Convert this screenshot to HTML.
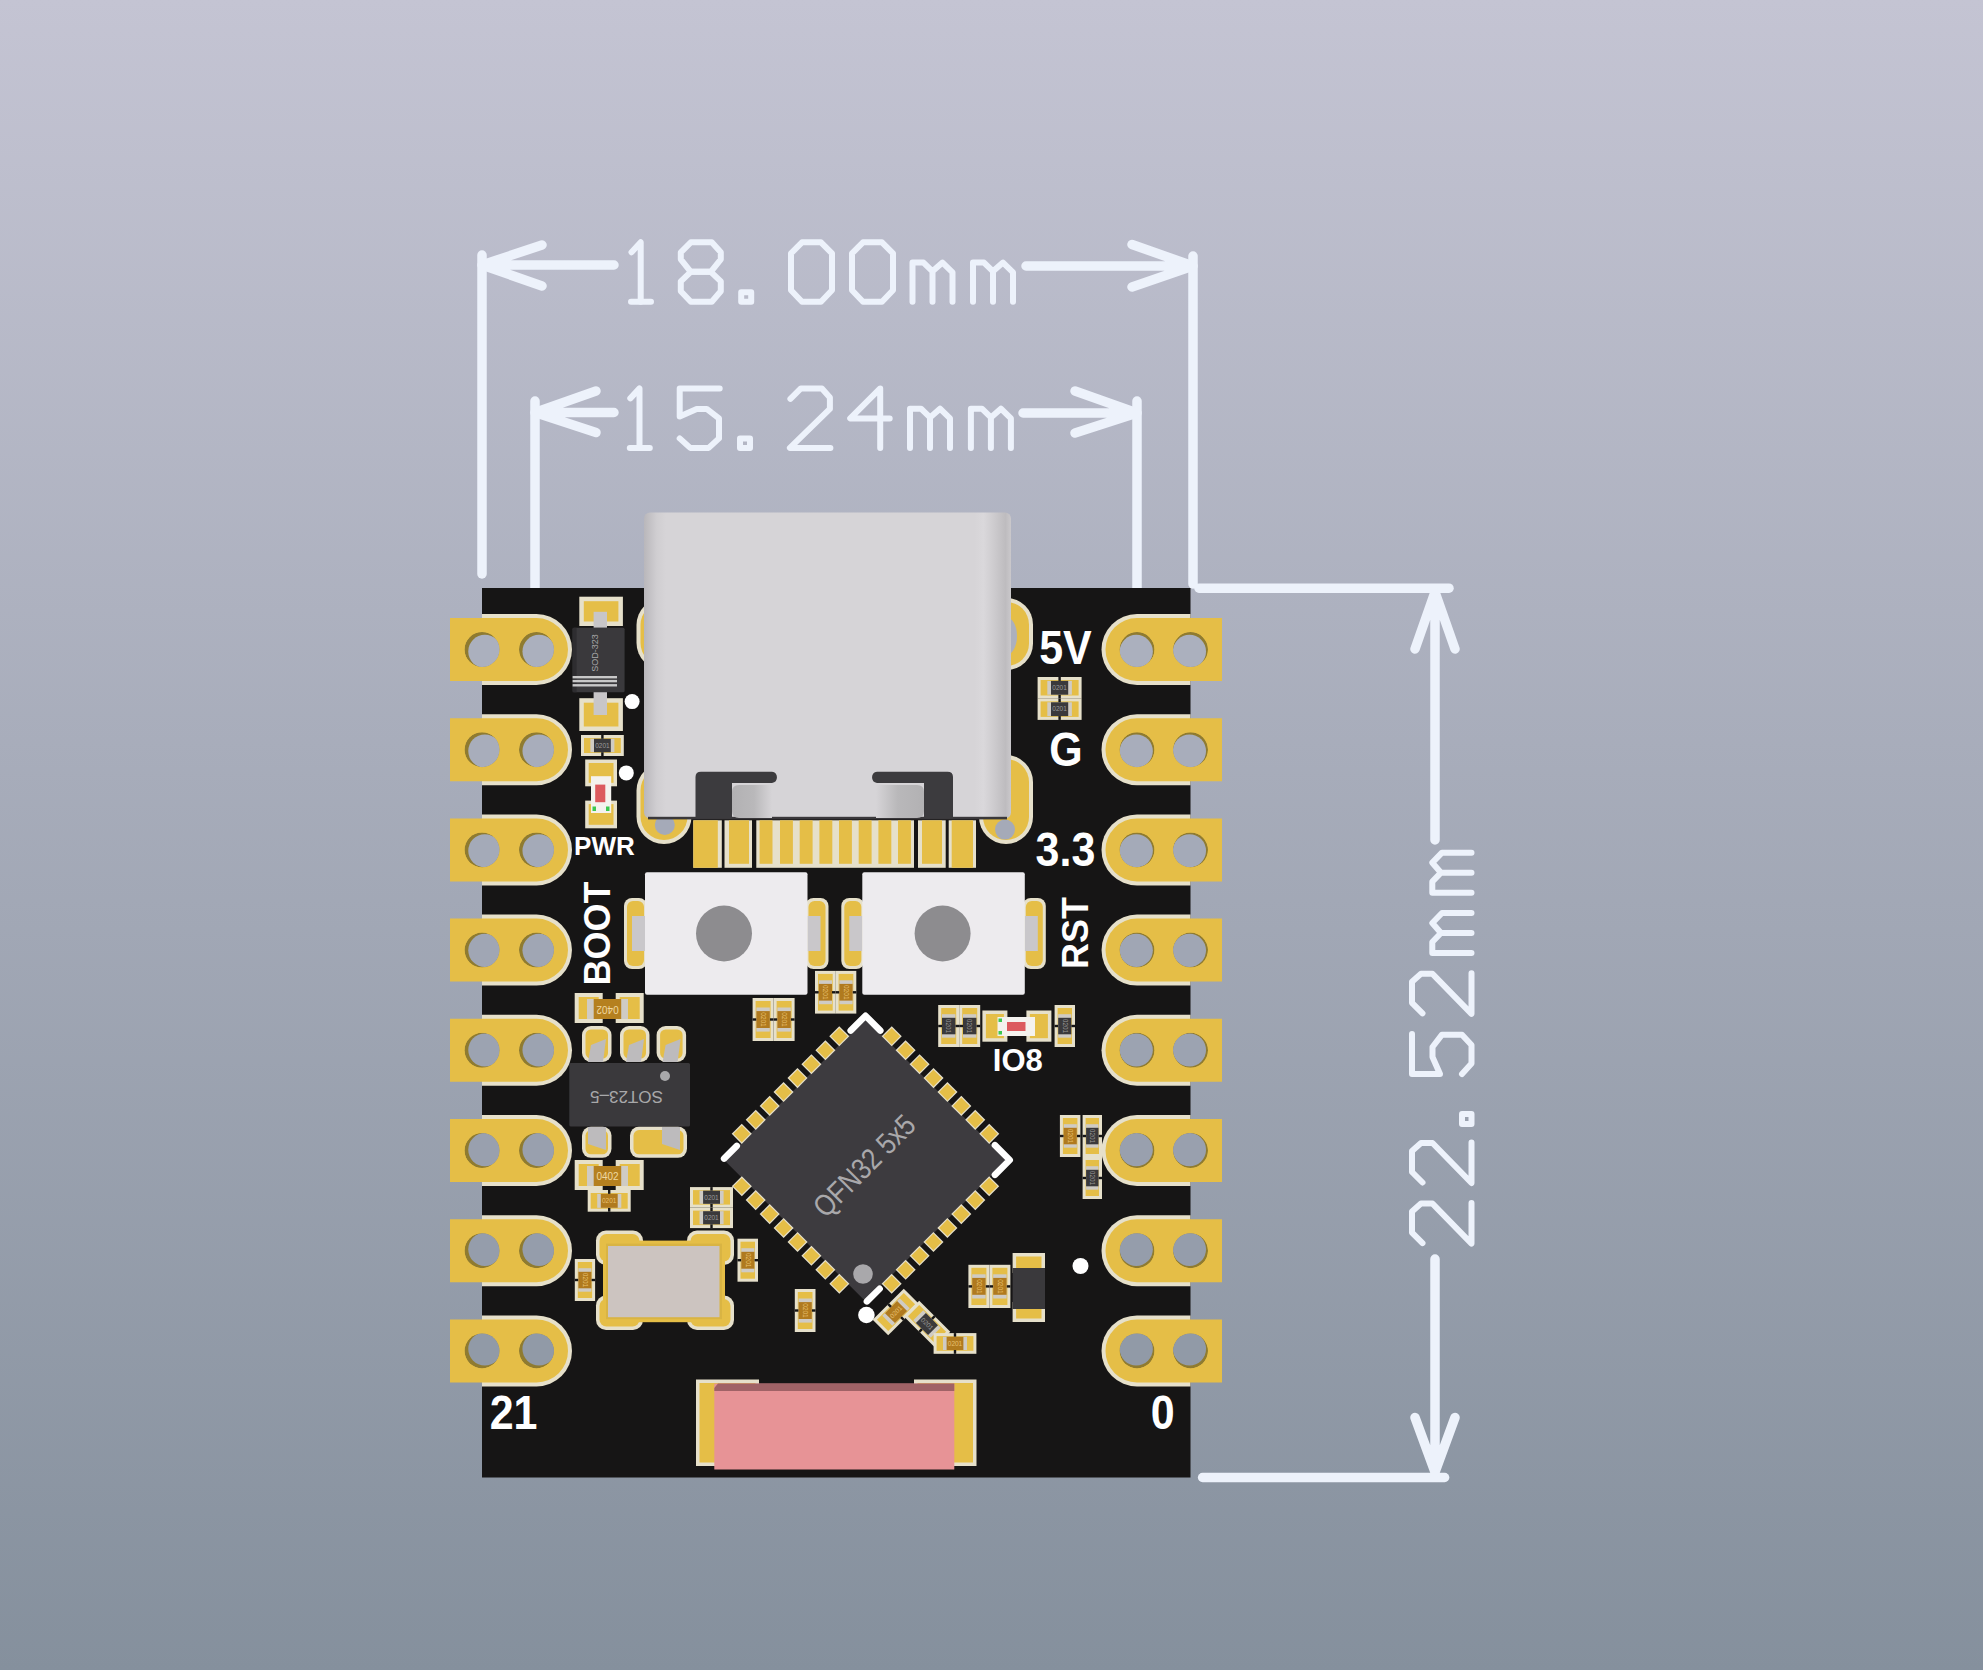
<!DOCTYPE html><html><head><meta charset="utf-8"><style>html,body{margin:0;padding:0;overflow:hidden;background:#C4C4D3}svg{display:block}</style></head><body>
<svg width="1983" height="1670" viewBox="0 0 1983 1670">
<defs><linearGradient id="bg" x1="0" y1="0" x2="0" y2="1"><stop offset="0" stop-color="#C4C4D3"/><stop offset="1" stop-color="#85909D"/></linearGradient></defs>
<rect x="0" y="0" width="1983" height="1670" fill="url(#bg)"/>
<g stroke="#EDF2FB" stroke-width="9.5" stroke-linecap="round" stroke-linejoin="round" fill="none">
<path d="M482,255 L482,574"/>
<path d="M1193,256 L1193,584"/>
<path d="M482,265 L614,265 M482,265 L542,245 M482,265 L542,286"/>
<path d="M1026,266 L1193,266 M1193,266 L1132,244.5 M1193,266 L1132,287"/>
<path d="M535,401 L535,588"/>
<path d="M1137,401 L1137,588"/>
<path d="M535,412.5 L614,412.5 M535,412.5 L596,391 M535,412.5 L596,432.5"/>
<path d="M1023,413 L1137,413 M1137,413 L1075,391 M1137,413 L1075,433"/>
<path d="M1199,588.2 L1449,588.2"/>
<path d="M1202.6,1477.5 L1444.6,1477.5"/>
<path d="M1435,592 L1435,840 M1435,592 L1415,649 M1435,592 L1455,649"/>
<path d="M1435,1259 L1435,1472 M1435,1472 L1415,1417.5 M1435,1472 L1455,1417.5"/>
</g>
<g stroke="#EDF2FB" stroke-width="6" stroke-linecap="round" stroke-linejoin="round" fill="none">
<path transform="translate(628.0,239.3)" d="M3.5,13 L12.7,3 L12.7,62.5"/><path transform="translate(628.0,239.3)" d="M3,62.5 L23,62.5"/><path transform="translate(677.8,239.3)" d="M13,3 L34,3 L43,13 L43,20 L33,32.5 L13,32.5 L3,20 L3,13 Z"/><path transform="translate(677.8,239.3)" d="M13,32.5 L33,32.5 L43,42 L43,52 L34,62.5 L13,62.5 L3,52 L3,42 Z"/><path transform="translate(738.2,239.3)" d="M3,53 L13,53 L13,62.5 L3,62.5 Z"/><path transform="translate(788.0,239.3)" d="M14,3 L33,3 L44,14 L44,51 L33,62.5 L14,62.5 L3,51 L3,14 Z"/><path transform="translate(849.0,239.3)" d="M14,3 L33,3 L44,14 L44,51 L33,62.5 L14,62.5 L3,51 L3,14 Z"/><path transform="translate(909.5,239.3)" d="M3,62.5 L3,23.3 L14,23.3 L23,32 L23,62.5 M23,32 L33,23.3 L43,33 L43,62.5"/><path transform="translate(970.0,239.3)" d="M3,62.5 L3,23.3 L14,23.3 L23,32 L23,62.5 M23,32 L33,23.3 L43,33 L43,62.5"/>
<path transform="translate(626.8,385.4)" d="M3.5,13 L12.7,3 L12.7,62.5"/><path transform="translate(626.8,385.4)" d="M3,62.5 L23,62.5"/><path transform="translate(676.7,385.4)" d="M43,3 L3,3 L3,31 L20,23.5 L30,23.5 L42.3,33 L42.3,53 L32,62.5 L13.5,62.5 L3,53"/><path transform="translate(737.0,385.4)" d="M3,53 L13,53 L13,62.5 L3,62.5 Z"/><path transform="translate(786.9,385.4)" d="M3.5,13.5 L14,3 L35,3 L43,12 L43,23.5 L3,62.5 L43.5,62.5"/><path transform="translate(847.2,385.4)" d="M33,62.5 L33,3 L3,33 L42.5,33"/><path transform="translate(907.0,385.4)" d="M3,62.5 L3,23.3 L14,23.3 L23,32 L23,62.5 M23,32 L33,23.3 L43,33 L43,62.5"/><path transform="translate(967.9,385.4)" d="M3,62.5 L3,23.3 L14,23.3 L23,32 L23,62.5 M23,32 L33,23.3 L43,33 L43,62.5"/>
<path transform="translate(1409.0,1246.6) rotate(-90)" d="M3.5,13.5 L14,3 L35,3 L43,12 L43,23.5 L3,62.5 L43.5,62.5"/><path transform="translate(1409.0,1186.0) rotate(-90)" d="M3.5,13.5 L14,3 L35,3 L43,12 L43,23.5 L3,62.5 L43.5,62.5"/><path transform="translate(1409.0,1127.0) rotate(-90)" d="M3,53 L13,53 L13,62.5 L3,62.5 Z"/><path transform="translate(1409.0,1077.0) rotate(-90)" d="M43,3 L3,3 L3,31 L20,23.5 L30,23.5 L42.3,33 L42.3,53 L32,62.5 L13.5,62.5 L3,53"/><path transform="translate(1409.0,1016.8) rotate(-90)" d="M3.5,13.5 L14,3 L35,3 L43,12 L43,23.5 L3,62.5 L43.5,62.5"/><path transform="translate(1409.0,956.0) rotate(-90)" d="M3,62.5 L3,23.3 L14,23.3 L23,32 L23,62.5 M23,32 L33,23.3 L43,33 L43,62.5"/><path transform="translate(1409.0,895.7) rotate(-90)" d="M3,62.5 L3,23.3 L14,23.3 L23,32 L23,62.5 M23,32 L33,23.3 L43,33 L43,62.5"/>
</g>
<defs><clipPath id="hc"><circle cx="0" cy="0" r="17.5"/></clipPath></defs>
<rect x="482" y="588" width="708.5" height="889.5" fill="#161515"/>
<path d="M482,614.0 L536.5,614.0 A35.5,35.5 0 0 1 536.5,685.0 L482,685.0 Z" fill="#E6E0CA"/><path d="M450,618.0 L536.5,618.0 A31.5,31.5 0 0 1 536.5,681.0 L450,681.0 Z" fill="#E5BE47"/><g transform="translate(482.0,649.5)" clip-path="url(#hc)"><circle cx="0" cy="0" r="17.5" fill="#8F7B30"/><circle cx="2.85" cy="1.93" r="16.6" fill="#ABB0BE"/></g><g transform="translate(536.5,649.5)" clip-path="url(#hc)"><circle cx="0" cy="0" r="17.5" fill="#8F7B30"/><circle cx="2.55" cy="1.93" r="16.6" fill="#ABB0BE"/></g>
<path d="M1190.5,614.0 L1137.0,614.0 A35.5,35.5 0 0 0 1137.0,685.0 L1190.5,685.0 Z" fill="#E6E0CA"/><path d="M1222,618.0 L1137.0,618.0 A31.5,31.5 0 0 0 1137.0,681.0 L1222,681.0 Z" fill="#E5BE47"/><g transform="translate(1137.0,649.5)" clip-path="url(#hc)"><circle cx="0" cy="0" r="17.5" fill="#8F7B30"/><circle cx="-0.75" cy="1.93" r="16.6" fill="#ABB0BE"/></g><g transform="translate(1190.5,649.5)" clip-path="url(#hc)"><circle cx="0" cy="0" r="17.5" fill="#8F7B30"/><circle cx="-1.05" cy="1.93" r="16.6" fill="#ABB0BE"/></g>
<path d="M482,714.2 L536.5,714.2 A35.5,35.5 0 0 1 536.5,785.2 L482,785.2 Z" fill="#E6E0CA"/><path d="M450,718.2 L536.5,718.2 A31.5,31.5 0 0 1 536.5,781.2 L450,781.2 Z" fill="#E5BE47"/><g transform="translate(482.0,749.7)" clip-path="url(#hc)"><circle cx="0" cy="0" r="17.5" fill="#8F7B30"/><circle cx="2.85" cy="1.38" r="16.6" fill="#A8ADBB"/></g><g transform="translate(536.5,749.7)" clip-path="url(#hc)"><circle cx="0" cy="0" r="17.5" fill="#8F7B30"/><circle cx="2.55" cy="1.38" r="16.6" fill="#A8ADBB"/></g>
<path d="M1190.5,714.2 L1137.0,714.2 A35.5,35.5 0 0 0 1137.0,785.2 L1190.5,785.2 Z" fill="#E6E0CA"/><path d="M1222,718.2 L1137.0,718.2 A31.5,31.5 0 0 0 1137.0,781.2 L1222,781.2 Z" fill="#E5BE47"/><g transform="translate(1137.0,749.7)" clip-path="url(#hc)"><circle cx="0" cy="0" r="17.5" fill="#8F7B30"/><circle cx="-0.75" cy="1.38" r="16.6" fill="#A8ADBB"/></g><g transform="translate(1190.5,749.7)" clip-path="url(#hc)"><circle cx="0" cy="0" r="17.5" fill="#8F7B30"/><circle cx="-1.05" cy="1.38" r="16.6" fill="#A8ADBB"/></g>
<path d="M482,814.4 L536.5,814.4 A35.5,35.5 0 0 1 536.5,885.4 L482,885.4 Z" fill="#E6E0CA"/><path d="M450,818.4 L536.5,818.4 A31.5,31.5 0 0 1 536.5,881.4 L450,881.4 Z" fill="#E5BE47"/><g transform="translate(482.0,849.9)" clip-path="url(#hc)"><circle cx="0" cy="0" r="17.5" fill="#8F7B30"/><circle cx="2.85" cy="0.83" r="16.6" fill="#A4AAB8"/></g><g transform="translate(536.5,849.9)" clip-path="url(#hc)"><circle cx="0" cy="0" r="17.5" fill="#8F7B30"/><circle cx="2.55" cy="0.83" r="16.6" fill="#A4AAB8"/></g>
<path d="M1190.5,814.4 L1137.0,814.4 A35.5,35.5 0 0 0 1137.0,885.4 L1190.5,885.4 Z" fill="#E6E0CA"/><path d="M1222,818.4 L1137.0,818.4 A31.5,31.5 0 0 0 1137.0,881.4 L1222,881.4 Z" fill="#E5BE47"/><g transform="translate(1137.0,849.9)" clip-path="url(#hc)"><circle cx="0" cy="0" r="17.5" fill="#8F7B30"/><circle cx="-0.75" cy="0.83" r="16.6" fill="#A4AAB8"/></g><g transform="translate(1190.5,849.9)" clip-path="url(#hc)"><circle cx="0" cy="0" r="17.5" fill="#8F7B30"/><circle cx="-1.05" cy="0.83" r="16.6" fill="#A4AAB8"/></g>
<path d="M482,914.6 L536.5,914.6 A35.5,35.5 0 0 1 536.5,985.6 L482,985.6 Z" fill="#E6E0CA"/><path d="M450,918.6 L536.5,918.6 A31.5,31.5 0 0 1 536.5,981.6 L450,981.6 Z" fill="#E5BE47"/><g transform="translate(482.0,950.1)" clip-path="url(#hc)"><circle cx="0" cy="0" r="17.5" fill="#8F7B30"/><circle cx="2.85" cy="0.27" r="16.6" fill="#A0A6B4"/></g><g transform="translate(536.5,950.1)" clip-path="url(#hc)"><circle cx="0" cy="0" r="17.5" fill="#8F7B30"/><circle cx="2.55" cy="0.27" r="16.6" fill="#A0A6B4"/></g>
<path d="M1190.5,914.6 L1137.0,914.6 A35.5,35.5 0 0 0 1137.0,985.6 L1190.5,985.6 Z" fill="#E6E0CA"/><path d="M1222,918.6 L1137.0,918.6 A31.5,31.5 0 0 0 1137.0,981.6 L1222,981.6 Z" fill="#E5BE47"/><g transform="translate(1137.0,950.1)" clip-path="url(#hc)"><circle cx="0" cy="0" r="17.5" fill="#8F7B30"/><circle cx="-0.75" cy="0.27" r="16.6" fill="#A0A6B4"/></g><g transform="translate(1190.5,950.1)" clip-path="url(#hc)"><circle cx="0" cy="0" r="17.5" fill="#8F7B30"/><circle cx="-1.05" cy="0.27" r="16.6" fill="#A0A6B4"/></g>
<path d="M482,1014.8 L536.5,1014.8 A35.5,35.5 0 0 1 536.5,1085.8 L482,1085.8 Z" fill="#E6E0CA"/><path d="M450,1018.8 L536.5,1018.8 A31.5,31.5 0 0 1 536.5,1081.8 L450,1081.8 Z" fill="#E5BE47"/><g transform="translate(482.0,1050.3)" clip-path="url(#hc)"><circle cx="0" cy="0" r="17.5" fill="#8F7B30"/><circle cx="2.85" cy="-0.28" r="16.6" fill="#9CA3B1"/></g><g transform="translate(536.5,1050.3)" clip-path="url(#hc)"><circle cx="0" cy="0" r="17.5" fill="#8F7B30"/><circle cx="2.55" cy="-0.28" r="16.6" fill="#9CA3B1"/></g>
<path d="M1190.5,1014.8 L1137.0,1014.8 A35.5,35.5 0 0 0 1137.0,1085.8 L1190.5,1085.8 Z" fill="#E6E0CA"/><path d="M1222,1018.8 L1137.0,1018.8 A31.5,31.5 0 0 0 1137.0,1081.8 L1222,1081.8 Z" fill="#E5BE47"/><g transform="translate(1137.0,1050.3)" clip-path="url(#hc)"><circle cx="0" cy="0" r="17.5" fill="#8F7B30"/><circle cx="-0.75" cy="-0.28" r="16.6" fill="#9CA3B1"/></g><g transform="translate(1190.5,1050.3)" clip-path="url(#hc)"><circle cx="0" cy="0" r="17.5" fill="#8F7B30"/><circle cx="-1.05" cy="-0.28" r="16.6" fill="#9CA3B1"/></g>
<path d="M482,1115.0 L536.5,1115.0 A35.5,35.5 0 0 1 536.5,1186.0 L482,1186.0 Z" fill="#E6E0CA"/><path d="M450,1119.0 L536.5,1119.0 A31.5,31.5 0 0 1 536.5,1182.0 L450,1182.0 Z" fill="#E5BE47"/><g transform="translate(482.0,1150.5)" clip-path="url(#hc)"><circle cx="0" cy="0" r="17.5" fill="#8F7B30"/><circle cx="2.85" cy="-0.83" r="16.6" fill="#99A0AE"/></g><g transform="translate(536.5,1150.5)" clip-path="url(#hc)"><circle cx="0" cy="0" r="17.5" fill="#8F7B30"/><circle cx="2.55" cy="-0.83" r="16.6" fill="#99A0AE"/></g>
<path d="M1190.5,1115.0 L1137.0,1115.0 A35.5,35.5 0 0 0 1137.0,1186.0 L1190.5,1186.0 Z" fill="#E6E0CA"/><path d="M1222,1119.0 L1137.0,1119.0 A31.5,31.5 0 0 0 1137.0,1182.0 L1222,1182.0 Z" fill="#E5BE47"/><g transform="translate(1137.0,1150.5)" clip-path="url(#hc)"><circle cx="0" cy="0" r="17.5" fill="#8F7B30"/><circle cx="-0.75" cy="-0.83" r="16.6" fill="#99A0AE"/></g><g transform="translate(1190.5,1150.5)" clip-path="url(#hc)"><circle cx="0" cy="0" r="17.5" fill="#8F7B30"/><circle cx="-1.05" cy="-0.83" r="16.6" fill="#99A0AE"/></g>
<path d="M482,1215.2 L536.5,1215.2 A35.5,35.5 0 0 1 536.5,1286.2 L482,1286.2 Z" fill="#E6E0CA"/><path d="M450,1219.2 L536.5,1219.2 A31.5,31.5 0 0 1 536.5,1282.2 L450,1282.2 Z" fill="#E5BE47"/><g transform="translate(482.0,1250.7)" clip-path="url(#hc)"><circle cx="0" cy="0" r="17.5" fill="#8F7B30"/><circle cx="2.85" cy="-1.38" r="16.6" fill="#959DAB"/></g><g transform="translate(536.5,1250.7)" clip-path="url(#hc)"><circle cx="0" cy="0" r="17.5" fill="#8F7B30"/><circle cx="2.55" cy="-1.38" r="16.6" fill="#959DAB"/></g>
<path d="M1190.5,1215.2 L1137.0,1215.2 A35.5,35.5 0 0 0 1137.0,1286.2 L1190.5,1286.2 Z" fill="#E6E0CA"/><path d="M1222,1219.2 L1137.0,1219.2 A31.5,31.5 0 0 0 1137.0,1282.2 L1222,1282.2 Z" fill="#E5BE47"/><g transform="translate(1137.0,1250.7)" clip-path="url(#hc)"><circle cx="0" cy="0" r="17.5" fill="#8F7B30"/><circle cx="-0.75" cy="-1.38" r="16.6" fill="#959DAB"/></g><g transform="translate(1190.5,1250.7)" clip-path="url(#hc)"><circle cx="0" cy="0" r="17.5" fill="#8F7B30"/><circle cx="-1.05" cy="-1.38" r="16.6" fill="#959DAB"/></g>
<path d="M482,1315.4 L536.5,1315.4 A35.5,35.5 0 0 1 536.5,1386.4 L482,1386.4 Z" fill="#E6E0CA"/><path d="M450,1319.4 L536.5,1319.4 A31.5,31.5 0 0 1 536.5,1382.4 L450,1382.4 Z" fill="#E5BE47"/><g transform="translate(482.0,1350.9)" clip-path="url(#hc)"><circle cx="0" cy="0" r="17.5" fill="#8F7B30"/><circle cx="2.85" cy="-1.93" r="16.6" fill="#919AA7"/></g><g transform="translate(536.5,1350.9)" clip-path="url(#hc)"><circle cx="0" cy="0" r="17.5" fill="#8F7B30"/><circle cx="2.55" cy="-1.93" r="16.6" fill="#919AA7"/></g>
<path d="M1190.5,1315.4 L1137.0,1315.4 A35.5,35.5 0 0 0 1137.0,1386.4 L1190.5,1386.4 Z" fill="#E6E0CA"/><path d="M1222,1319.4 L1137.0,1319.4 A31.5,31.5 0 0 0 1137.0,1382.4 L1222,1382.4 Z" fill="#E5BE47"/><g transform="translate(1137.0,1350.9)" clip-path="url(#hc)"><circle cx="0" cy="0" r="17.5" fill="#8F7B30"/><circle cx="-0.75" cy="-1.93" r="16.6" fill="#919AA7"/></g><g transform="translate(1190.5,1350.9)" clip-path="url(#hc)"><circle cx="0" cy="0" r="17.5" fill="#8F7B30"/><circle cx="-1.05" cy="-1.93" r="16.6" fill="#919AA7"/></g>
<rect x="636.5" y="598.0" width="54.0" height="72.0" rx="27.0" fill="#E6E0CA"/><rect x="640.5" y="602.0" width="46.0" height="64.0" rx="23.0" fill="#E5BE47"/>
<rect x="980.0" y="598.0" width="53.0" height="72.0" rx="26.5" fill="#E6E0CA"/><rect x="984.0" y="602.0" width="45.0" height="64.0" rx="22.5" fill="#E5BE47"/>
<ellipse cx="1006" cy="636" rx="11" ry="19" fill="#ACB0BE"/>
<rect x="636.5" y="763.0" width="55.0" height="81.0" rx="27.5" fill="#E6E0CA"/><rect x="640.5" y="767.0" width="47.0" height="73.0" rx="23.5" fill="#E5BE47"/>
<circle cx="664.8" cy="825.0" r="10.0" fill="#A5AAB8"/>
<rect x="979.0" y="755.0" width="54.0" height="89.0" rx="27.0" fill="#E6E0CA"/><rect x="983.0" y="759.0" width="46.0" height="81.0" rx="23.0" fill="#E5BE47"/>
<circle cx="1005.0" cy="829.6" r="10.0" fill="#A5AAB8"/>
<rect x="693.3" y="820.3" width="28.5" height="47.5" fill="#E6E0CA"/><rect x="693.3" y="820.3" width="24.5" height="47.5" fill="#E5BE47"/>
<rect x="724.5" y="820.3" width="27.5" height="47.5" fill="#E6E0CA"/><rect x="729.0" y="820.3" width="20.0" height="43.5" fill="#E5BE47"/>
<rect x="756.3" y="820.3" width="157.7" height="47.5" fill="#E6E0CA"/>
<rect x="759.6" y="820.3" width="12.9" height="43.5" fill="#E5BE47"/>
<rect x="780.0" y="820.3" width="12.9" height="43.5" fill="#E5BE47"/>
<rect x="799.7" y="820.3" width="12.9" height="43.5" fill="#E5BE47"/>
<rect x="819.4" y="820.3" width="12.9" height="43.5" fill="#E5BE47"/>
<rect x="839.0" y="820.3" width="12.9" height="43.5" fill="#E5BE47"/>
<rect x="858.7" y="820.3" width="12.9" height="43.5" fill="#E5BE47"/>
<rect x="878.4" y="820.3" width="12.9" height="43.5" fill="#E5BE47"/>
<rect x="898.0" y="820.3" width="12.9" height="43.5" fill="#E5BE47"/>
<rect x="918.0" y="820.3" width="27.7" height="47.5" fill="#E6E0CA"/><rect x="922.0" y="820.3" width="20.0" height="43.5" fill="#E5BE47"/>
<rect x="948.7" y="820.3" width="27.3" height="47.5" fill="#E6E0CA"/><rect x="951.7" y="820.3" width="21.3" height="47.5" fill="#E5BE47"/>
<defs><linearGradient id="usbg" x1="0" y1="0" x2="1" y2="0"><stop offset="0" stop-color="#B9B7BB"/><stop offset="0.035" stop-color="#D0CED1"/><stop offset="0.06" stop-color="#D6D4D7"/><stop offset="0.90" stop-color="#D6D4D7"/><stop offset="0.925" stop-color="#DAD8DB"/><stop offset="0.95" stop-color="#CFCDD0"/><stop offset="0.985" stop-color="#BEBCBF"/><stop offset="1" stop-color="#CAC8CB"/></linearGradient></defs>
<rect x="644.0" y="512.5" width="367.0" height="306.0" rx="6.0" fill="url(#usbg)"/>
<rect x="648.0" y="816.8" width="359.0" height="2.6" fill="#3A383B"/>
<defs><linearGradient id="recL" x1="0" y1="0" x2="1" y2="0"><stop offset="0" stop-color="#B2B1B3"/><stop offset="0.55" stop-color="#B9B8BA"/><stop offset="1" stop-color="#D6D4D7"/></linearGradient><linearGradient id="recR" x1="1" y1="0" x2="0" y2="0"><stop offset="0" stop-color="#B2B1B3"/><stop offset="0.55" stop-color="#B9B8BA"/><stop offset="1" stop-color="#D6D4D7"/></linearGradient></defs>
<path d="M695.5,818.6 L695.5,777 Q695.5,771.7 701,771.7 L772,771.7 A5.7,5.7 0 0 1 772,783 L732,783 L732,818.6 Z" fill="#3C3B3E"/>
<path d="M772,785 L739,785 Q732,785 732,792 L732,811 Q732,818 739,818 L772,818 Z" fill="url(#recL)"/>
<path d="M953,818.6 L953,777 Q953,771.7 947.5,771.7 L877,771.7 A5.7,5.7 0 0 0 877,783 L924,783 L924,818.6 Z" fill="#3C3B3E"/>
<path d="M876,785 L917,785 Q924,785 924,792 L924,811 Q924,818 917,818 L876,818 Z" fill="url(#recR)"/>
<rect x="624.0" y="898.0" width="23.0" height="71.0" rx="8.0" fill="#E6E0CA"/><rect x="627.0" y="901.0" width="17.0" height="65.0" rx="6.0" fill="#E5BE47"/>
<rect x="805.5" y="898.0" width="23.0" height="71.0" rx="8.0" fill="#E6E0CA"/><rect x="808.5" y="901.0" width="17.0" height="65.0" rx="6.0" fill="#E5BE47"/>
<rect x="632.0" y="916.0" width="13.0" height="35.0" fill="#C9C7CA"/>
<rect x="807.5" y="916.0" width="13.0" height="35.0" fill="#C9C7CA"/>
<rect x="645.0" y="872.3" width="162.5" height="122.5" rx="2.0" fill="#EDEBEE"/>
<circle cx="724.0" cy="933.5" r="28.0" fill="#8D8C8F"/>
<rect x="841.3" y="898.0" width="23.0" height="71.0" rx="8.0" fill="#E6E0CA"/><rect x="844.3" y="901.0" width="17.0" height="65.0" rx="6.0" fill="#E5BE47"/>
<rect x="1022.8" y="898.0" width="23.0" height="71.0" rx="8.0" fill="#E6E0CA"/><rect x="1025.8" y="901.0" width="17.0" height="65.0" rx="6.0" fill="#E5BE47"/>
<rect x="849.3" y="916.0" width="13.0" height="35.0" fill="#C9C7CA"/>
<rect x="1024.8" y="916.0" width="13.0" height="35.0" fill="#C9C7CA"/>
<rect x="862.3" y="872.3" width="162.5" height="122.5" rx="2.0" fill="#EDEBEE"/>
<circle cx="942.6" cy="933.5" r="28.0" fill="#8D8C8F"/>
<g transform="translate(865.5,1160.0) rotate(45)">
<rect x="-100.0" y="-100.0" width="200.0" height="200.0" rx="4.0" fill="#3D3B3F"/>
<rect x="-76.0" y="-113.1" width="14.2" height="14.2" fill="#E6E0CA"/><rect x="-74.8" y="-111.9" width="11.8" height="11.8" fill="#E5BE47"/><rect x="-76.0" y="98.9" width="14.2" height="14.2" fill="#E6E0CA"/><rect x="-74.8" y="100.1" width="11.8" height="11.8" fill="#E5BE47"/><rect x="-113.1" y="-76.0" width="14.2" height="14.2" fill="#E6E0CA"/><rect x="-111.9" y="-74.8" width="11.8" height="11.8" fill="#E5BE47"/><rect x="98.9" y="-76.0" width="14.2" height="14.2" fill="#E6E0CA"/><rect x="100.1" y="-74.8" width="11.8" height="11.8" fill="#E5BE47"/><rect x="-56.4" y="-113.1" width="14.2" height="14.2" fill="#E6E0CA"/><rect x="-55.1" y="-111.9" width="11.8" height="11.8" fill="#E5BE47"/><rect x="-56.4" y="98.9" width="14.2" height="14.2" fill="#E6E0CA"/><rect x="-55.1" y="100.1" width="11.8" height="11.8" fill="#E5BE47"/><rect x="-113.1" y="-56.4" width="14.2" height="14.2" fill="#E6E0CA"/><rect x="-111.9" y="-55.1" width="11.8" height="11.8" fill="#E5BE47"/><rect x="98.9" y="-56.4" width="14.2" height="14.2" fill="#E6E0CA"/><rect x="100.1" y="-55.1" width="11.8" height="11.8" fill="#E5BE47"/><rect x="-36.6" y="-113.1" width="14.2" height="14.2" fill="#E6E0CA"/><rect x="-35.4" y="-111.9" width="11.8" height="11.8" fill="#E5BE47"/><rect x="-36.6" y="98.9" width="14.2" height="14.2" fill="#E6E0CA"/><rect x="-35.4" y="100.1" width="11.8" height="11.8" fill="#E5BE47"/><rect x="-113.1" y="-36.6" width="14.2" height="14.2" fill="#E6E0CA"/><rect x="-111.9" y="-35.4" width="11.8" height="11.8" fill="#E5BE47"/><rect x="98.9" y="-36.6" width="14.2" height="14.2" fill="#E6E0CA"/><rect x="100.1" y="-35.4" width="11.8" height="11.8" fill="#E5BE47"/><rect x="-16.9" y="-113.1" width="14.2" height="14.2" fill="#E6E0CA"/><rect x="-15.8" y="-111.9" width="11.8" height="11.8" fill="#E5BE47"/><rect x="-16.9" y="98.9" width="14.2" height="14.2" fill="#E6E0CA"/><rect x="-15.8" y="100.1" width="11.8" height="11.8" fill="#E5BE47"/><rect x="-113.1" y="-16.9" width="14.2" height="14.2" fill="#E6E0CA"/><rect x="-111.9" y="-15.8" width="11.8" height="11.8" fill="#E5BE47"/><rect x="98.9" y="-16.9" width="14.2" height="14.2" fill="#E6E0CA"/><rect x="100.1" y="-15.8" width="11.8" height="11.8" fill="#E5BE47"/><rect x="2.8" y="-113.1" width="14.2" height="14.2" fill="#E6E0CA"/><rect x="4.0" y="-111.9" width="11.8" height="11.8" fill="#E5BE47"/><rect x="2.8" y="98.9" width="14.2" height="14.2" fill="#E6E0CA"/><rect x="4.0" y="100.1" width="11.8" height="11.8" fill="#E5BE47"/><rect x="-113.1" y="2.8" width="14.2" height="14.2" fill="#E6E0CA"/><rect x="-111.9" y="4.0" width="11.8" height="11.8" fill="#E5BE47"/><rect x="98.9" y="2.8" width="14.2" height="14.2" fill="#E6E0CA"/><rect x="100.1" y="4.0" width="11.8" height="11.8" fill="#E5BE47"/><rect x="22.4" y="-113.1" width="14.2" height="14.2" fill="#E6E0CA"/><rect x="23.6" y="-111.9" width="11.8" height="11.8" fill="#E5BE47"/><rect x="22.4" y="98.9" width="14.2" height="14.2" fill="#E6E0CA"/><rect x="23.6" y="100.1" width="11.8" height="11.8" fill="#E5BE47"/><rect x="-113.1" y="22.4" width="14.2" height="14.2" fill="#E6E0CA"/><rect x="-111.9" y="23.6" width="11.8" height="11.8" fill="#E5BE47"/><rect x="98.9" y="22.4" width="14.2" height="14.2" fill="#E6E0CA"/><rect x="100.1" y="23.6" width="11.8" height="11.8" fill="#E5BE47"/><rect x="42.1" y="-113.1" width="14.2" height="14.2" fill="#E6E0CA"/><rect x="43.4" y="-111.9" width="11.8" height="11.8" fill="#E5BE47"/><rect x="42.1" y="98.9" width="14.2" height="14.2" fill="#E6E0CA"/><rect x="43.4" y="100.1" width="11.8" height="11.8" fill="#E5BE47"/><rect x="-113.1" y="42.1" width="14.2" height="14.2" fill="#E6E0CA"/><rect x="-111.9" y="43.4" width="11.8" height="11.8" fill="#E5BE47"/><rect x="98.9" y="42.1" width="14.2" height="14.2" fill="#E6E0CA"/><rect x="100.1" y="43.4" width="11.8" height="11.8" fill="#E5BE47"/><rect x="61.9" y="-113.1" width="14.2" height="14.2" fill="#E6E0CA"/><rect x="63.1" y="-111.9" width="11.8" height="11.8" fill="#E5BE47"/><rect x="61.9" y="98.9" width="14.2" height="14.2" fill="#E6E0CA"/><rect x="63.1" y="100.1" width="11.8" height="11.8" fill="#E5BE47"/><rect x="-113.1" y="61.9" width="14.2" height="14.2" fill="#E6E0CA"/><rect x="-111.9" y="63.1" width="11.8" height="11.8" fill="#E5BE47"/><rect x="98.9" y="61.9" width="14.2" height="14.2" fill="#E6E0CA"/><rect x="100.1" y="63.1" width="11.8" height="11.8" fill="#E5BE47"/>
<path d="M-102.0,-81.0 L-102.0,-102.0 L-81.0,-102.0 M81.0,-102.0 L102.0,-102.0 L102.0,-81.0 M-101.0,99.0 L-101.0,81.0 M101.0,99.0 L101.0,81.0 " stroke="#FFFFFF" stroke-width="6.5" fill="none" stroke-linecap="round" stroke-linejoin="round"/>
</g>
<circle cx="863.0" cy="1274.0" r="9.8" fill="#A9A8AB"/>
<circle cx="866.4" cy="1315.0" r="8.3" fill="#FFFFFF"/>
<text transform="translate(871.5,1173) rotate(-45)" x="-65" textLength="130" lengthAdjust="spacingAndGlyphs" font-family="Liberation Sans, sans-serif" font-size="30" fill="#A9A8AB">QFN32 5x5</text>
<rect x="579.3" y="596.7" width="43.6" height="29.3" fill="#E6E0CA"/><rect x="583.8" y="601.2" width="34.6" height="20.3" fill="#E5BE47"/>
<rect x="579.3" y="698.2" width="43.6" height="32.8" fill="#E6E0CA"/><rect x="583.8" y="702.7" width="34.6" height="23.8" fill="#E5BE47"/>
<rect x="593.6" y="611.8" width="13.4" height="16.0" fill="#C8C6C8"/>
<rect x="593.6" y="692.0" width="13.4" height="23.0" fill="#C8C6C8"/>
<rect x="572.6" y="627.8" width="52.0" height="64.5" rx="1.5" fill="#3A393C"/>
<rect x="572.6" y="627.8" width="4.0" height="64.5" fill="#2E2D30"/>
<rect x="572.6" y="676.0" width="44.4" height="2.4" fill="#C8C8C8"/>
<rect x="572.6" y="679.9" width="44.4" height="2.4" fill="#C8C8C8"/>
<rect x="572.6" y="684.1" width="44.4" height="2.4" fill="#C8C8C8"/>
<text transform="translate(598,653) rotate(-90)" text-anchor="middle" font-family="Liberation Sans, sans-serif" font-size="9" fill="#A8A8A8">SOD-323</text>
<circle cx="632.1" cy="701.6" r="7.5" fill="#FFFFFF"/>
<g transform="translate(602.4,745.5)"><rect x="-21.4" y="-10.5" width="42.8" height="21.0" fill="#E6E0CA"/><rect x="-18.4" y="-7.5" width="36.8" height="15.0" fill="#E5BE47"/><rect x="-1.2" y="-10.5" width="2.4" height="21.0" fill="#161515"/><rect x="-12.0" y="-6.7" width="24.0" height="13.4" fill="#CFCBC4"/><rect x="-8.4" y="-6.7" width="16.8" height="13.4" fill="#3A393B"/><text x="0" y="2.2" text-anchor="middle" font-family="Liberation Sans, sans-serif" font-size="6.5" fill="#9A9A9A">0201</text></g>
<rect x="585.2" y="759.5" width="31.8" height="26.8" fill="#E6E0CA"/><rect x="588.7" y="763.0" width="24.8" height="19.8" fill="#E5BE47"/>
<rect x="585.2" y="800.6" width="31.8" height="27.7" fill="#E6E0CA"/><rect x="588.7" y="804.1" width="24.8" height="20.7" fill="#E5BE47"/>
<rect x="591.0" y="776.2" width="20.2" height="36.8" fill="#F4F2EE"/>
<rect x="595.2" y="784.6" width="10.1" height="17.6" fill="#DC5A5E"/>
<rect x="592.5" y="806.5" width="3.5" height="4.5" fill="#3CC850"/><rect x="606.0" y="806.5" width="3.5" height="4.5" fill="#3CC850"/>
<circle cx="626.3" cy="772.9" r="7.5" fill="#FFFFFF"/>
<rect x="574.7" y="993.0" width="28.0" height="30.0" fill="#E6E0CA"/><rect x="578.7" y="997.0" width="20.0" height="22.0" fill="#E5BE47"/><rect x="615.7" y="993.0" width="28.0" height="30.0" fill="#E6E0CA"/><rect x="619.7" y="997.0" width="20.0" height="22.0" fill="#E5BE47"/><rect x="587.0" y="999.0" width="41.0" height="20.0" fill="#CFCBC4"/><rect x="593.7" y="999.0" width="27.5" height="20.0" fill="#B5801F"/><text transform="translate(607.5,1009.0) rotate(180)" x="0" y="3.5" text-anchor="middle" font-family="Liberation Sans, sans-serif" font-size="10" fill="#F0D8A0">0402</text>
<rect x="574.7" y="1160.0" width="28.0" height="30.0" fill="#E6E0CA"/><rect x="578.7" y="1164.0" width="20.0" height="22.0" fill="#E5BE47"/><rect x="615.7" y="1160.0" width="28.0" height="30.0" fill="#E6E0CA"/><rect x="619.7" y="1164.0" width="20.0" height="22.0" fill="#E5BE47"/><rect x="587.0" y="1166.0" width="41.0" height="20.0" fill="#CFCBC4"/><rect x="593.7" y="1166.0" width="27.5" height="20.0" fill="#B5801F"/><text transform="translate(607.5,1176.0)" x="0" y="3.5" text-anchor="middle" font-family="Liberation Sans, sans-serif" font-size="10" fill="#F0D8A0">0402</text>
<rect x="582.0" y="1026.0" width="29.5" height="36.0" rx="9.0" fill="#E6E0CA"/><rect x="585.5" y="1029.5" width="22.5" height="29.0" rx="5.5" fill="#E5BE47"/>
<path d="M588.0,1062 L591.0,1045 L606.0,1039 L603.0,1062 Z" fill="#BDBBBD"/>
<rect x="620.0" y="1026.0" width="29.5" height="36.0" rx="9.0" fill="#E6E0CA"/><rect x="623.5" y="1029.5" width="22.5" height="29.0" rx="5.5" fill="#E5BE47"/>
<path d="M626.0,1062 L629.0,1045 L644.0,1039 L641.0,1062 Z" fill="#BDBBBD"/>
<rect x="656.6" y="1026.0" width="29.5" height="36.0" rx="9.0" fill="#E6E0CA"/><rect x="660.1" y="1029.5" width="22.5" height="29.0" rx="5.5" fill="#E5BE47"/>
<path d="M662.6,1062 L665.6,1045 L680.6,1039 L677.6,1062 Z" fill="#BDBBBD"/>
<rect x="582.0" y="1126.6" width="29.5" height="31.2" rx="9.0" fill="#E6E0CA"/><rect x="585.5" y="1130.1" width="22.5" height="24.2" rx="5.5" fill="#E5BE47"/>
<rect x="630.0" y="1126.6" width="57.0" height="31.2" rx="9.0" fill="#E6E0CA"/><rect x="633.5" y="1130.1" width="50.0" height="24.2" rx="5.5" fill="#E5BE47"/>
<path d="M588,1127 L588,1144 L606,1150 L606,1127 Z" fill="#BDBBBD"/>
<path d="M662,1127 L662,1144 L680,1150 L680,1127 Z" fill="#BDBBBD"/>
<rect x="569.3" y="1063.0" width="120.7" height="63.6" rx="1.5" fill="#3A393C"/>
<circle cx="665.0" cy="1076.0" r="5.0" fill="#A8A8AA"/>
<text transform="translate(626.5,1096.4) rotate(180)" x="0" y="0" text-anchor="middle" dominant-baseline="central" font-family="Liberation Sans, sans-serif" font-size="17" fill="#A8A8AA">SOT23&#8211;5</text>
<g transform="translate(609.2,1200.8)"><rect x="-21.5" y="-10.8" width="43.0" height="21.7" fill="#E6E0CA"/><rect x="-18.5" y="-7.8" width="37.0" height="15.7" fill="#E5BE47"/><rect x="-1.2" y="-10.8" width="2.4" height="21.7" fill="#161515"/><rect x="-12.0" y="-6.9" width="24.1" height="13.9" fill="#CFCBC4"/><rect x="-8.4" y="-6.9" width="16.9" height="13.9" fill="#B07A1E"/><text x="0" y="2.2" text-anchor="middle" font-family="Liberation Sans, sans-serif" font-size="6.5" fill="#E8C070">0201</text></g>
<rect x="596.0" y="1230.5" width="47.0" height="34.5" rx="10.0" fill="#E6E0CA"/><rect x="599.5" y="1234.0" width="40.0" height="27.5" rx="7.0" fill="#E5BE47"/>
<rect x="687.0" y="1230.5" width="47.0" height="34.5" rx="10.0" fill="#E6E0CA"/><rect x="690.5" y="1234.0" width="40.0" height="27.5" rx="7.0" fill="#E5BE47"/>
<rect x="596.0" y="1295.5" width="47.0" height="34.5" rx="10.0" fill="#E6E0CA"/><rect x="599.5" y="1299.0" width="40.0" height="27.5" rx="7.0" fill="#E5BE47"/>
<rect x="687.0" y="1295.5" width="47.0" height="34.5" rx="10.0" fill="#E6E0CA"/><rect x="690.5" y="1299.0" width="40.0" height="27.5" rx="7.0" fill="#E5BE47"/>
<rect x="603.0" y="1240.6" width="122.0" height="81.6" fill="#E5BE47"/>
<rect x="606.0" y="1243.6" width="116.0" height="75.6" fill="#D9B443"/>
<rect x="608.0" y="1246.0" width="111.5" height="71.2" fill="#CCC4C0"/>
<g transform="translate(584.9,1280.0) rotate(90)"><rect x="-21.0" y="-10.2" width="42.0" height="20.3" fill="#E6E0CA"/><rect x="-18.0" y="-7.2" width="36.0" height="14.3" fill="#E5BE47"/><rect x="-1.2" y="-10.2" width="2.4" height="20.3" fill="#161515"/><rect x="-11.8" y="-6.5" width="23.5" height="13.0" fill="#CFCBC4"/><rect x="-8.2" y="-6.5" width="16.5" height="13.0" fill="#B07A1E"/><text x="0" y="2.2" text-anchor="middle" font-family="Liberation Sans, sans-serif" font-size="6.5" fill="#E8C070">0201</text></g>
<g transform="translate(747.8,1260.2) rotate(90)"><rect x="-21.5" y="-10.2" width="43.0" height="20.5" fill="#E6E0CA"/><rect x="-18.5" y="-7.2" width="37.0" height="14.5" fill="#E5BE47"/><rect x="-1.2" y="-10.2" width="2.4" height="20.5" fill="#161515"/><rect x="-12.0" y="-6.6" width="24.1" height="13.1" fill="#CFCBC4"/><rect x="-8.4" y="-6.6" width="16.9" height="13.1" fill="#B07A1E"/><text x="0" y="2.2" text-anchor="middle" font-family="Liberation Sans, sans-serif" font-size="6.5" fill="#E8C070">0201</text></g>
<g transform="translate(711.5,1197.3)"><rect x="-21.5" y="-10.2" width="43.0" height="20.5" fill="#E6E0CA"/><rect x="-18.5" y="-7.2" width="37.0" height="14.5" fill="#E5BE47"/><rect x="-1.2" y="-10.2" width="2.4" height="20.5" fill="#161515"/><rect x="-12.0" y="-6.6" width="24.1" height="13.1" fill="#CFCBC4"/><rect x="-8.4" y="-6.6" width="16.9" height="13.1" fill="#3A393B"/><text x="0" y="2.2" text-anchor="middle" font-family="Liberation Sans, sans-serif" font-size="6.5" fill="#9A9A9A">0201</text></g>
<g transform="translate(711.5,1217.8)"><rect x="-21.5" y="-10.2" width="43.0" height="20.5" fill="#E6E0CA"/><rect x="-18.5" y="-7.2" width="37.0" height="14.5" fill="#E5BE47"/><rect x="-1.2" y="-10.2" width="2.4" height="20.5" fill="#161515"/><rect x="-12.0" y="-6.6" width="24.1" height="13.1" fill="#CFCBC4"/><rect x="-8.4" y="-6.6" width="16.9" height="13.1" fill="#3A393B"/><text x="0" y="2.2" text-anchor="middle" font-family="Liberation Sans, sans-serif" font-size="6.5" fill="#9A9A9A">0201</text></g>
<g transform="translate(763.1,1019.5) rotate(90)"><rect x="-21.5" y="-10.5" width="43.0" height="21.0" fill="#E6E0CA"/><rect x="-18.5" y="-7.5" width="37.0" height="15.0" fill="#E5BE47"/><rect x="-1.2" y="-10.5" width="2.4" height="21.0" fill="#161515"/><rect x="-12.0" y="-6.7" width="24.1" height="13.4" fill="#CFCBC4"/><rect x="-8.4" y="-6.7" width="16.9" height="13.4" fill="#B07A1E"/><text x="0" y="2.2" text-anchor="middle" font-family="Liberation Sans, sans-serif" font-size="6.5" fill="#E8C070">0201</text></g>
<g transform="translate(784.1,1019.5) rotate(90)"><rect x="-21.5" y="-10.5" width="43.0" height="21.0" fill="#E6E0CA"/><rect x="-18.5" y="-7.5" width="37.0" height="15.0" fill="#E5BE47"/><rect x="-1.2" y="-10.5" width="2.4" height="21.0" fill="#161515"/><rect x="-12.0" y="-6.7" width="24.1" height="13.4" fill="#CFCBC4"/><rect x="-8.4" y="-6.7" width="16.9" height="13.4" fill="#B07A1E"/><text x="0" y="2.2" text-anchor="middle" font-family="Liberation Sans, sans-serif" font-size="6.5" fill="#E8C070">0201</text></g>
<g transform="translate(825.4,992.3) rotate(90)"><rect x="-21.4" y="-10.3" width="42.7" height="20.7" fill="#E6E0CA"/><rect x="-18.4" y="-7.3" width="36.7" height="14.7" fill="#E5BE47"/><rect x="-1.2" y="-10.3" width="2.4" height="20.7" fill="#161515"/><rect x="-12.0" y="-6.6" width="23.9" height="13.2" fill="#CFCBC4"/><rect x="-8.4" y="-6.6" width="16.7" height="13.2" fill="#B07A1E"/><text x="0" y="2.2" text-anchor="middle" font-family="Liberation Sans, sans-serif" font-size="6.5" fill="#E8C070">0201</text></g>
<g transform="translate(846.0,992.3) rotate(90)"><rect x="-21.4" y="-10.3" width="42.7" height="20.7" fill="#E6E0CA"/><rect x="-18.4" y="-7.3" width="36.7" height="14.7" fill="#E5BE47"/><rect x="-1.2" y="-10.3" width="2.4" height="20.7" fill="#161515"/><rect x="-12.0" y="-6.6" width="23.9" height="13.2" fill="#CFCBC4"/><rect x="-8.4" y="-6.6" width="16.7" height="13.2" fill="#B07A1E"/><text x="0" y="2.2" text-anchor="middle" font-family="Liberation Sans, sans-serif" font-size="6.5" fill="#E8C070">0201</text></g>
<g transform="translate(805.2,1310.5) rotate(90)"><rect x="-21.5" y="-10.3" width="43.0" height="20.7" fill="#E6E0CA"/><rect x="-18.5" y="-7.3" width="37.0" height="14.7" fill="#E5BE47"/><rect x="-1.2" y="-10.3" width="2.4" height="20.7" fill="#161515"/><rect x="-12.0" y="-6.6" width="24.1" height="13.2" fill="#CFCBC4"/><rect x="-8.4" y="-6.6" width="16.9" height="13.2" fill="#B07A1E"/><text x="0" y="2.2" text-anchor="middle" font-family="Liberation Sans, sans-serif" font-size="6.5" fill="#E8C070">0201</text></g>
<g transform="translate(896.0,1312.0) rotate(-45)"><rect x="-22.0" y="-11.0" width="44.0" height="22.0" fill="#E6E0CA"/><rect x="-19.0" y="-8.0" width="38.0" height="16.0" fill="#E5BE47"/><rect x="-1.2" y="-11.0" width="2.4" height="22.0" fill="#161515"/><rect x="-12.3" y="-7.0" width="24.6" height="14.1" fill="#CFCBC4"/><rect x="-8.6" y="-7.0" width="17.2" height="14.1" fill="#B07A1E"/><text x="0" y="2.2" text-anchor="middle" font-family="Liberation Sans, sans-serif" font-size="6.5" fill="#E8C070">0201</text></g>
<g transform="translate(927.0,1324.0) rotate(45)"><rect x="-22.0" y="-11.0" width="44.0" height="22.0" fill="#E6E0CA"/><rect x="-19.0" y="-8.0" width="38.0" height="16.0" fill="#E5BE47"/><rect x="-1.2" y="-11.0" width="2.4" height="22.0" fill="#161515"/><rect x="-12.3" y="-7.0" width="24.6" height="14.1" fill="#CFCBC4"/><rect x="-8.6" y="-7.0" width="17.2" height="14.1" fill="#3A393B"/><text x="0" y="2.2" text-anchor="middle" font-family="Liberation Sans, sans-serif" font-size="6.5" fill="#9A9A9A">0201</text></g>
<g transform="translate(955.0,1343.4)"><rect x="-21.4" y="-10.3" width="42.8" height="20.7" fill="#E6E0CA"/><rect x="-18.4" y="-7.3" width="36.8" height="14.7" fill="#E5BE47"/><rect x="-1.2" y="-10.3" width="2.4" height="20.7" fill="#161515"/><rect x="-12.0" y="-6.6" width="24.0" height="13.2" fill="#CFCBC4"/><rect x="-8.4" y="-6.6" width="16.8" height="13.2" fill="#B07A1E"/><text x="0" y="2.2" text-anchor="middle" font-family="Liberation Sans, sans-serif" font-size="6.5" fill="#E8C070">0201</text></g>
<g transform="translate(1059.6,687.8)"><rect x="-22.0" y="-10.8" width="44.0" height="21.5" fill="#E6E0CA"/><rect x="-19.0" y="-7.8" width="38.0" height="15.5" fill="#E5BE47"/><rect x="-1.2" y="-10.8" width="2.4" height="21.5" fill="#161515"/><rect x="-12.3" y="-6.9" width="24.6" height="13.8" fill="#CFCBC4"/><rect x="-8.6" y="-6.9" width="17.2" height="13.8" fill="#3A393B"/><text x="0" y="2.2" text-anchor="middle" font-family="Liberation Sans, sans-serif" font-size="6.5" fill="#9A9A9A">0201</text></g>
<g transform="translate(1059.6,709.2)"><rect x="-22.0" y="-10.8" width="44.0" height="21.5" fill="#E6E0CA"/><rect x="-19.0" y="-7.8" width="38.0" height="15.5" fill="#E5BE47"/><rect x="-1.2" y="-10.8" width="2.4" height="21.5" fill="#161515"/><rect x="-12.3" y="-6.9" width="24.6" height="13.8" fill="#CFCBC4"/><rect x="-8.6" y="-6.9" width="17.2" height="13.8" fill="#3A393B"/><text x="0" y="2.2" text-anchor="middle" font-family="Liberation Sans, sans-serif" font-size="6.5" fill="#9A9A9A">0201</text></g>
<g transform="translate(948.7,1026.0) rotate(90)"><rect x="-21.0" y="-10.5" width="42.0" height="21.0" fill="#E6E0CA"/><rect x="-18.0" y="-7.5" width="36.0" height="15.0" fill="#E5BE47"/><rect x="-1.2" y="-10.5" width="2.4" height="21.0" fill="#161515"/><rect x="-11.8" y="-6.7" width="23.5" height="13.4" fill="#CFCBC4"/><rect x="-8.2" y="-6.7" width="16.5" height="13.4" fill="#3A393B"/><text x="0" y="2.2" text-anchor="middle" font-family="Liberation Sans, sans-serif" font-size="6.5" fill="#9A9A9A">0201</text></g>
<g transform="translate(969.7,1026.0) rotate(90)"><rect x="-21.0" y="-10.5" width="42.0" height="21.0" fill="#E6E0CA"/><rect x="-18.0" y="-7.5" width="36.0" height="15.0" fill="#E5BE47"/><rect x="-1.2" y="-10.5" width="2.4" height="21.0" fill="#161515"/><rect x="-11.8" y="-6.7" width="23.5" height="13.4" fill="#CFCBC4"/><rect x="-8.2" y="-6.7" width="16.5" height="13.4" fill="#3A393B"/><text x="0" y="2.2" text-anchor="middle" font-family="Liberation Sans, sans-serif" font-size="6.5" fill="#9A9A9A">0201</text></g>
<g transform="translate(1064.8,1026.0) rotate(90)"><rect x="-21.0" y="-10.2" width="42.0" height="20.4" fill="#E6E0CA"/><rect x="-18.0" y="-7.2" width="36.0" height="14.4" fill="#E5BE47"/><rect x="-1.2" y="-10.2" width="2.4" height="20.4" fill="#161515"/><rect x="-11.8" y="-6.5" width="23.5" height="13.1" fill="#CFCBC4"/><rect x="-8.2" y="-6.5" width="16.5" height="13.1" fill="#3A393B"/><text x="0" y="2.2" text-anchor="middle" font-family="Liberation Sans, sans-serif" font-size="6.5" fill="#9A9A9A">0201</text></g>
<rect x="982.4" y="1010.5" width="25.0" height="31.2" fill="#E6E0CA"/><rect x="985.9" y="1014.0" width="18.0" height="24.2" fill="#E5BE47"/><rect x="1026.4" y="1010.5" width="25.0" height="31.2" fill="#E6E0CA"/><rect x="1029.9" y="1014.0" width="18.0" height="24.2" fill="#E5BE47"/>
<rect x="997.5" y="1017.0" width="37.5" height="19.0" fill="#F4F2EE"/>
<rect x="1007.0" y="1022.0" width="18.5" height="9.0" fill="#DC5A5E"/>
<rect x="998.5" y="1018.5" width="3.5" height="3.5" fill="#3CC850"/><rect x="998.5" y="1031.0" width="3.5" height="3.5" fill="#3CC850"/>
<g transform="translate(1070.2,1136.0) rotate(90)"><rect x="-21.0" y="-10.2" width="42.0" height="20.5" fill="#E6E0CA"/><rect x="-18.0" y="-7.2" width="36.0" height="14.5" fill="#E5BE47"/><rect x="-1.2" y="-10.2" width="2.4" height="20.5" fill="#161515"/><rect x="-11.8" y="-6.6" width="23.5" height="13.1" fill="#CFCBC4"/><rect x="-8.2" y="-6.6" width="16.5" height="13.1" fill="#B07A1E"/><text x="0" y="2.2" text-anchor="middle" font-family="Liberation Sans, sans-serif" font-size="6.5" fill="#E8C070">0201</text></g>
<g transform="translate(1092.3,1136.0) rotate(90)"><rect x="-21.0" y="-9.7" width="42.0" height="19.4" fill="#E6E0CA"/><rect x="-18.0" y="-6.7" width="36.0" height="13.4" fill="#E5BE47"/><rect x="-1.2" y="-9.7" width="2.4" height="19.4" fill="#161515"/><rect x="-11.8" y="-6.2" width="23.5" height="12.4" fill="#CFCBC4"/><rect x="-8.2" y="-6.2" width="16.5" height="12.4" fill="#3A393B"/><text x="0" y="2.2" text-anchor="middle" font-family="Liberation Sans, sans-serif" font-size="6.5" fill="#9A9A9A">0201</text></g>
<g transform="translate(1092.3,1178.0) rotate(90)"><rect x="-21.0" y="-9.7" width="42.0" height="19.4" fill="#E6E0CA"/><rect x="-18.0" y="-6.7" width="36.0" height="13.4" fill="#E5BE47"/><rect x="-1.2" y="-9.7" width="2.4" height="19.4" fill="#161515"/><rect x="-11.8" y="-6.2" width="23.5" height="12.4" fill="#CFCBC4"/><rect x="-8.2" y="-6.2" width="16.5" height="12.4" fill="#3A393B"/><text x="0" y="2.2" text-anchor="middle" font-family="Liberation Sans, sans-serif" font-size="6.5" fill="#9A9A9A">0201</text></g>
<circle cx="1080.5" cy="1266.0" r="8.0" fill="#FFFFFF"/>
<g transform="translate(978.9,1286.4) rotate(90)"><rect x="-21.6" y="-10.5" width="43.2" height="21.0" fill="#E6E0CA"/><rect x="-18.6" y="-7.5" width="37.2" height="15.0" fill="#E5BE47"/><rect x="-1.2" y="-10.5" width="2.4" height="21.0" fill="#161515"/><rect x="-12.1" y="-6.7" width="24.2" height="13.4" fill="#CFCBC4"/><rect x="-8.5" y="-6.7" width="16.9" height="13.4" fill="#B07A1E"/><text x="0" y="2.2" text-anchor="middle" font-family="Liberation Sans, sans-serif" font-size="6.5" fill="#E8C070">0201</text></g>
<g transform="translate(999.9,1286.4) rotate(90)"><rect x="-21.6" y="-10.5" width="43.2" height="21.0" fill="#E6E0CA"/><rect x="-18.6" y="-7.5" width="37.2" height="15.0" fill="#E5BE47"/><rect x="-1.2" y="-10.5" width="2.4" height="21.0" fill="#161515"/><rect x="-12.1" y="-6.7" width="24.2" height="13.4" fill="#CFCBC4"/><rect x="-8.5" y="-6.7" width="16.9" height="13.4" fill="#B07A1E"/><text x="0" y="2.2" text-anchor="middle" font-family="Liberation Sans, sans-serif" font-size="6.5" fill="#E8C070">0201</text></g>
<rect x="1012.6" y="1253.0" width="32.4" height="20.0" fill="#E6E0CA"/><rect x="1016.1" y="1256.5" width="25.4" height="13.0" fill="#E5BE47"/><rect x="1012.6" y="1302.0" width="32.4" height="20.0" fill="#E6E0CA"/><rect x="1016.1" y="1305.5" width="25.4" height="13.0" fill="#E5BE47"/>
<rect x="1012.6" y="1268.0" width="32.4" height="41.0" fill="#3A393C"/>
<text transform="translate(1065.5,664.4) scale(1,1.110)" text-anchor="middle" font-family="Liberation Sans, sans-serif" font-weight="bold" font-size="43.0" fill="#FFFFFF">5V</text>
<text transform="translate(1066.0,765.5) scale(1,1.110)" text-anchor="middle" font-family="Liberation Sans, sans-serif" font-weight="bold" font-size="43.0" fill="#FFFFFF">G</text>
<text transform="translate(1065.5,865.6) scale(1,1.110)" text-anchor="middle" font-family="Liberation Sans, sans-serif" font-weight="bold" font-size="43.0" fill="#FFFFFF">3.3</text>
<text transform="translate(513.6,1429.0) scale(1,1.110)" text-anchor="middle" font-family="Liberation Sans, sans-serif" font-weight="bold" font-size="43.0" fill="#FFFFFF">21</text>
<text transform="translate(1162.7,1429.0) scale(1,1.110)" text-anchor="middle" font-family="Liberation Sans, sans-serif" font-weight="bold" font-size="43.0" fill="#FFFFFF">0</text>
<text transform="translate(604.4,855.1)" text-anchor="middle" font-family="Liberation Sans, sans-serif" font-weight="bold" font-size="26.0" fill="#FFFFFF">PWR</text>
<text transform="translate(1017.8,1070.8)" text-anchor="middle" font-family="Liberation Sans, sans-serif" font-weight="bold" font-size="31.0" fill="#FFFFFF">IO8</text>
<text transform="translate(610.0,933.5) rotate(-90)" text-anchor="middle" font-family="Liberation Sans, sans-serif" font-weight="bold" font-size="36.0" fill="#FFFFFF">BOOT</text>
<text transform="translate(1088.0,933.0) rotate(-90)" text-anchor="middle" font-family="Liberation Sans, sans-serif" font-weight="bold" font-size="36.0" fill="#FFFFFF">RST</text>
<rect x="696.0" y="1379.5" width="63.0" height="86.5" fill="#E6E0CA"/><rect x="699.5" y="1383.0" width="56.0" height="79.5" fill="#E5BE47"/>
<rect x="914.0" y="1379.5" width="62.5" height="86.5" fill="#E6E0CA"/><rect x="917.5" y="1383.0" width="55.5" height="79.5" fill="#E5BE47"/>
<rect x="714.3" y="1383.6" width="240.0" height="85.9" fill="#E79396"/>
<path d="M714.3,1391 L714.3,1388 L718,1383.6 L954.3,1383.6 L954.3,1391 Z" fill="#A06266"/>
</svg></body></html>
